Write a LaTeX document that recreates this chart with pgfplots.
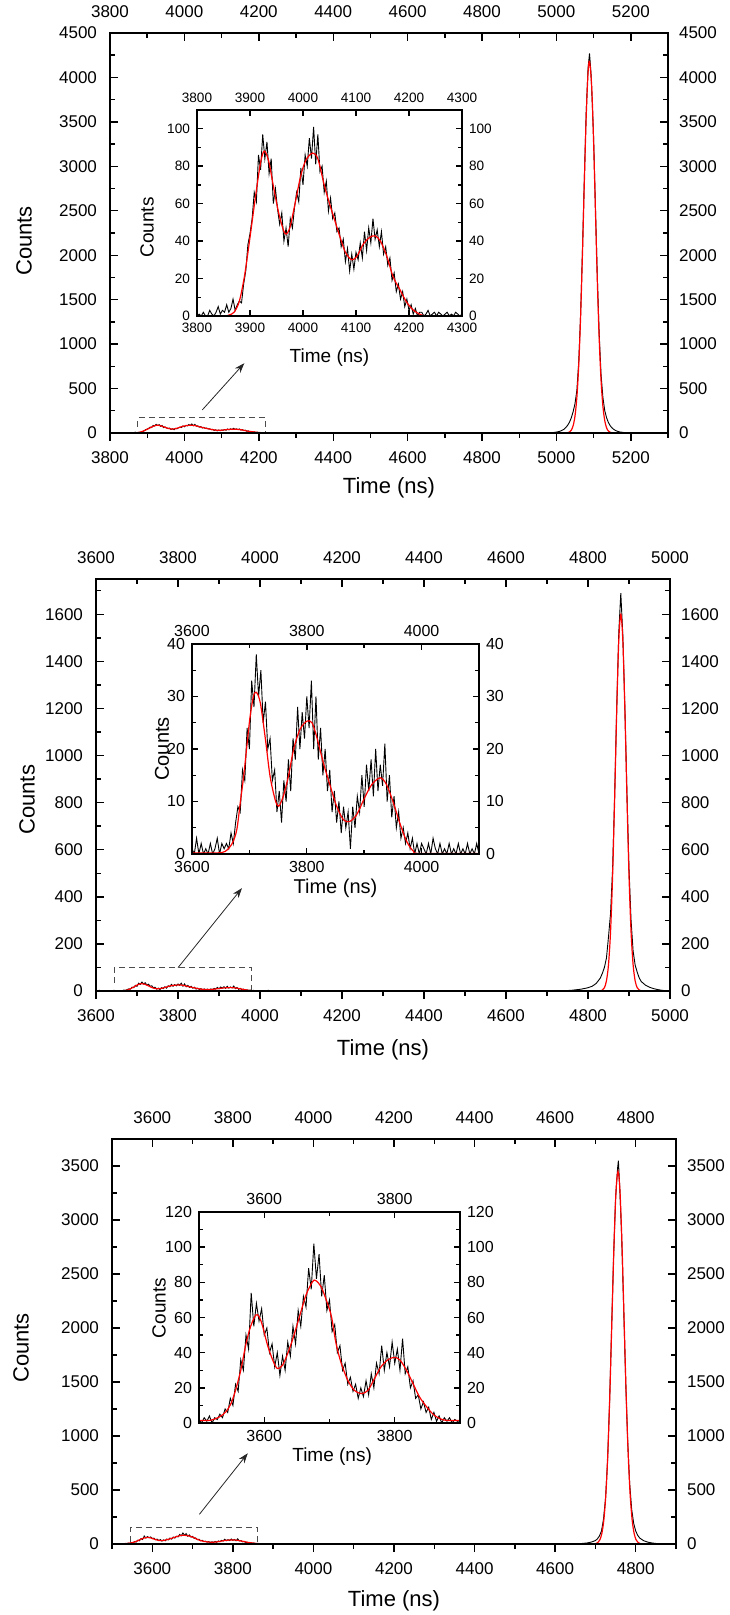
\documentclass[border=0pt]{standalone}
\usepackage{fontspec}
\setmainfont{Liberation Sans}
\usepackage{pgfplots}
\usepackage{pgfplotstable}
\pgfplotsset{compat=1.18}
\usetikzlibrary{arrows.meta}

% ---- panel 1 ----
\pgfplotstableread[row sep=\\]{x y\\
3800 0\\3804 1\\3808 0\\3812 2\\3816 0\\3820 0\\3824 3\\3828 1\\3832 0\\3836 2\\3840 5\\3844 1\\3848 3\\3852 2\\3856 6\\3860 2\\3864 4\\3868 9\\3872 3\\3876 6\\
3880 8\\3884 7\\3888 17\\3892 24\\3896 38\\3900 44\\3904 52\\3908 66\\3912 61\\3916 86\\3920 78\\3924 97\\3928 84\\3932 93\\3936 76\\3940 84\\3944 60\\3948 68\\3952 57\\3956 49\\
3960 55\\3964 40\\3968 47\\3972 37\\3976 52\\3980 47\\3984 58\\3988 66\\3992 61\\3996 79\\4000 70\\4004 86\\4008 80\\4012 95\\4016 84\\4020 101\\4024 81\\4028 97\\4032 77\\4036 80\\
4040 66\\4044 72\\4048 56\\4052 63\\4056 52\\4060 55\\4064 45\\4068 47\\4072 37\\4076 41\\4080 29\\4084 36\\4088 24\\4092 33\\4096 25\\4100 34\\4104 30\\4108 39\\4112 31\\4116 45\\
4120 35\\4124 47\\4128 39\\4132 52\\4136 41\\4140 46\\4144 37\\4148 45\\4152 33\\4156 37\\4160 27\\4164 31\\4168 19\\4172 23\\4176 13\\4180 17\\4184 9\\4188 13\\4192 5\\4196 9\\
4200 3\\4204 6\\4208 1\\4212 4\\4216 0\\4220 2\\4224 2\\4228 0\\4232 1\\4236 3\\4240 0\\4244 1\\4248 2\\4252 0\\4256 2\\4260 1\\4264 0\\4268 1\\4272 2\\4276 0\\
4280 1\\4284 0\\4288 2\\4292 1\\4296 0\\4300 1\\
}\blkA
\pgfplotstableread[row sep=\\]{x y\\
3800 0\\3850 0\\3860 0.5\\3870 2\\3880 8\\3890 22\\3900 42\\3910 63\\3920 82\\3927 88\\3935 83\\3945 68\\3955 54\\3966 44\\3975 47\\3985 60\\3995 74\\4005 83\\4018 87\\4028 84\\
4040 70\\4050 60\\4060 51\\4070 42\\4080 34\\4092 30\\4102 32\\4114 38.5\\4126 42\\4136 42.8\\4146 40\\4158 32\\4170 21\\4183 14\\4195 7.6\\4208 3.2\\4220 1\\4235 0\\4300 0\\
}\redA
\pgfplotstableread[row sep=\\]{x y\\
4980 0\\4990 4\\5000 10\\5010 20\\5020 40\\5025 60\\5030 85\\5035 120\\5040 170\\5045 240\\5050 330\\5055 480\\5060 800\\5065 1330\\5070 2050\\5075 2850\\5080 3600\\5085 4100\\5089 4270\\5093 4050\\
5097 3650\\5100 3320\\5105 2530\\5110 1760\\5115 1120\\5120 660\\5125 400\\5130 250\\5135 170\\5140 115\\5145 80\\5150 55\\5155 38\\5160 26\\5165 18\\5170 12\\5180 6\\5190 2\\5200 0\\
}\pkblkA
\pgfplotstableread[row sep=\\]{x y\\
5020 0\\5025 1\\5030 4\\5035 11\\5040 32\\5045 82\\5050 191\\5055 401\\5060 759\\5065 1300\\5070 2010\\5075 2809\\5080 3547\\5085 4047\\5089 4180\\5095 3886\\5100 3270\\5105 2487\\5110 1709\\5115 1061\\
5120 595\\5125 302\\5130 138\\5135 57\\5140 21\\5145 7\\5150 2\\5160 0\\
}\pkredA

% ---- panel 2 ----
\pgfplotstableread[row sep=\\]{x y\\
3600 1\\3604 0\\3608 3\\3612 0\\3616 2\\3620 0\\3624 1\\3628 0\\3632 2\\3636 0\\3640 1\\3644 3\\3648 0\\3652 2\\3656 1\\3660 2\\3664 1\\3668 4\\3672 2\\3676 6\\
3680 9\\3684 8\\3688 16\\3692 14\\3696 24\\3700 20\\3704 33\\3708 28\\3712 38\\3716 30\\3720 35\\3724 25\\3728 29\\3732 20\\3736 22\\3740 14\\3744 16\\3748 8\\3752 12\\3756 6\\
3760 14\\3764 10\\3768 18\\3772 12\\3776 22\\3780 18\\3784 28\\3788 20\\3792 27\\3796 22\\3800 30\\3804 24\\3808 33\\3812 20\\3816 30\\3820 18\\3824 24\\3828 15\\3832 20\\3836 12\\
3840 16\\3844 8\\3848 12\\3852 6\\3856 10\\3860 4\\3864 9\\3868 5\\3872 8\\3876 1\\3880 9\\3884 5\\3888 11\\3892 8\\3896 15\\3900 9\\3904 17\\3908 12\\3912 18\\3916 11\\
3920 20\\3924 12\\3928 17\\3932 13\\3936 21\\3940 10\\3944 15\\3948 7\\3952 11\\3956 5\\3960 8\\3964 3\\3968 5\\3972 2\\3976 4\\3980 1\\3984 3\\3988 0\\3992 2\\3996 0\\
4000 2\\4004 1\\4008 0\\4012 2\\4016 0\\4020 3\\4024 1\\4028 0\\4032 2\\4036 0\\4040 1\\4044 0\\4048 2\\4052 0\\4056 1\\4060 0\\4064 2\\4068 0\\4072 1\\4076 0\\
4080 2\\4084 0\\4088 1\\4092 0\\4096 2\\4100 0\\
}\blkB
\pgfplotstableread[row sep=\\]{x y\\
3600 0.2\\3643 0.2\\3658 0.5\\3670 2\\3678 4.6\\3684 9.7\\3690 14.8\\3696 21\\3701 26\\3707 30\\3712 30.8\\3719 28.8\\3728 21.8\\3736 14.8\\3745 10.3\\3751 9.1\\3759 11\\3768 14.8\\3777 19.9\\3788 23.7\\
3800 25.3\\3809 25\\3817 22.4\\3829 17.3\\3841 12.9\\3852 9.1\\3864 6.5\\3875 6.2\\3887 7.5\\3899 10.3\\3913 13.2\\3928 14.5\\3939 13.2\\3951 9.7\\3962 5.9\\3974 2.4\\3986 0.5\\3997 0.1\\4100 0.1\\
}\redB
\pgfplotstableread[row sep=\\]{x y\\
4740 0\\4750 2\\4760 3\\4770 5\\4780 7\\4790 10\\4800 14\\4810 20\\4820 32\\4830 55\\4835 75\\4840 100\\4845 140\\4850 230\\4855 330\\4860 520\\4865 830\\4870 1200\\4875 1520\\4880 1690\\
4885 1510\\4890 1200\\4895 840\\4900 520\\4905 300\\4910 170\\4915 110\\4920 80\\4925 55\\4930 40\\4940 25\\4950 16\\4960 10\\4970 6\\4980 3\\4990 1\\5000 0\\
}\pkblkB
\pgfplotstableread[row sep=\\]{x y\\
4830 1\\4835 4\\4840 14\\4845 43\\4850 112\\4855 252\\4860 490\\4865 822\\4870 1190\\4875 1486\\4880 1600\\4885 1486\\4890 1190\\4895 822\\4900 490\\4905 252\\4910 112\\4915 43\\4920 14\\4925 4\\
4930 1\\4940 0\\
}\pkredB

% ---- panel 3 ----
\pgfplotstableread[row sep=\\]{x y\\
3500 2\\3504 0\\3508 3\\3512 1\\3516 4\\3520 0\\3524 3\\3528 2\\3532 5\\3536 3\\3540 8\\3544 6\\3548 14\\3552 10\\3556 22\\3560 18\\3564 36\\3568 30\\3572 50\\3576 42\\
3580 74\\3584 55\\3588 68\\3592 58\\3596 65\\3600 50\\3604 54\\3608 40\\3612 45\\3616 32\\3620 40\\3624 27\\3628 38\\3632 30\\3636 46\\3640 38\\3644 55\\3648 45\\3652 64\\3656 55\\
3660 72\\3664 66\\3668 88\\3672 76\\3676 102\\3680 82\\3684 96\\3688 72\\3692 84\\3696 64\\3700 70\\3704 52\\3708 56\\3712 40\\3716 44\\3720 30\\3724 34\\3728 22\\3732 26\\3736 18\\
3740 22\\3744 14\\3748 20\\3752 15\\3756 24\\3760 16\\3764 28\\3768 20\\3772 34\\3776 28\\3780 44\\3784 30\\3788 40\\3792 32\\3796 46\\3800 34\\3804 42\\3808 30\\3812 48\\3816 28\\
3820 32\\3824 20\\3828 24\\3832 14\\3836 16\\3840 8\\3844 12\\3848 6\\3852 9\\3856 2\\3860 6\\3864 1\\3868 4\\3872 0\\3876 3\\3880 1\\3884 3\\3888 0\\3892 2\\3896 1\\3900 0\\
}\blkC
\pgfplotstableread[row sep=\\]{x y\\
3500 1.5\\3517 1.5\\3531 3.4\\3541 6.3\\3549 11\\3556 18.6\\3564 30\\3572 45\\3579 54.8\\3587 61.4\\3592 60.5\\3597 55.7\\3605 44.3\\3613 35.8\\3620 31\\3628 32.9\\3636 39.6\\3644 48.1\\3654 60.5\\3664 72.8\\
3674 80.4\\3679 81\\3687 77.6\\3695 70\\3703 60.5\\3710 45.3\\3718 33.9\\3728 24.3\\3738 18.6\\3749 16.7\\3759 18.6\\3769 25.3\\3779 32\\3790 36.1\\3800 37.3\\3808 35.8\\3818 30\\3828 22.4\\3838 14.8\\3849 9.1\\
3859 4.9\\3869 2.5\\3879 1.5\\3900 1.5\\
}\redC
\pgfplotstableread[row sep=\\]{x y\\
4650 0\\4660 3\\4670 6\\4680 10\\4690 18\\4700 32\\4705 48\\4710 75\\4715 120\\4720 230\\4725 420\\4730 760\\4735 1300\\4740 1980\\4745 2650\\4750 3200\\4755 3480\\4757 3550\\4760 3330\\4765 2860\\
4770 2200\\4775 1520\\4780 960\\4785 560\\4790 320\\4795 190\\4800 120\\4805 80\\4810 55\\4820 30\\4830 17\\4840 10\\4850 5\\4860 2\\4870 0\\
}\pkblkC
\pgfplotstableread[row sep=\\]{x y\\
4690 0\\4696 1\\4701 4\\4706 13\\4711 38\\4716 99\\4721 227\\4726 467\\4731 860\\4736 1418\\4741 2093\\4746 2762\\4751 3263\\4756 3450\\4761 3263\\4766 2762\\4771 2093\\4776 1418\\4781 860\\4786 467\\
4791 227\\4796 99\\4801 38\\4806 13\\4811 4\\4816 1\\4830 0\\
}\pkredC

\pgfplotsset{
  /pgf/number format/set thousands separator={},
  base/.style={scale only axis, anchor=south west,
    axis line style={line width=0.8pt},
    every tick/.append style={black, line width=0.7pt},
    /pgf/number format/assume math mode=true},
  mainax/.style={base,
    tick label style={font=\fontsize{8.5}{10}\selectfont},
    label style={font=\fontsize{11}{13}\selectfont},
    major tick length=4pt, minor tick length=2.5pt},
  insax/.style={base, tick align=inside,
    major tick length=3pt, minor tick length=1.8pt},
  bottomax/.style={tick align=outside, ytick=\empty, xtick pos=bottom,
    xticklabel pos=bottom, xticklabel style={yshift=-2pt}},
  topleftax/.style={tick align=inside, xtick pos=top, xticklabel pos=top,
    ytick pos=left, yticklabel pos=left,
    xticklabel style={yshift=4pt}, yticklabel style={xshift=-3pt}},
  rightax/.style={tick align=inside, xtick=\empty, ytick pos=right,
    yticklabel pos=right, yticklabel style={xshift=2pt}},
  blk/.style={black, line width=0.45pt},
  rd/.style={red, line width=0.6pt, smooth},
}
\tikzset{
  box/.style={densely dashed, black!70, line width=0.5pt},
  arr/.style={-{Stealth[length=5pt,width=3.5pt]}, line width=0.4pt, black!85},
}

\begin{document}
\begin{tikzpicture}
\path[use as bounding box] (0pt,0pt) rectangle (364.5pt,807.5pt);

% ================= panel 1 =================
\begin{axis}[mainax, bottomax, at={(55pt,591pt)}, width=279pt, height=200pt,
  xmin=3800, xmax=5300, ymin=0, ymax=4500,
  xtick={3800,4000,...,5200}, minor xtick={3900,4100,...,5300},
  xlabel={Time (ns)},
  xlabel style={at={(axis description cs:0.5,0)}, anchor=center, yshift=-27.5pt}]
  \addplot[blk] coordinates {(3800,0) (5300,0)};
  \addplot[blk] table {\blkA};
  \addplot[blk] table {\pkblkA};
  \addplot[red, line width=0.6pt] coordinates {(3800,0) (5300,0)};
  \addplot[rd] table {\redA};
  \addplot[rd] table {\pkredA};
  \draw[box] (axis cs:3875,70) -- (axis cs:3875,172) -- (axis cs:4217,172) -- (axis cs:4217,15);
  \draw[arr] (axis cs:4048,259) -- (axis cs:4161,785);
\end{axis}
\begin{axis}[mainax, topleftax, at={(55pt,591pt)}, width=279pt, height=200pt,
  xmin=3800, xmax=5300, ymin=0, ymax=4500,
  xtick={3800,4000,...,5200}, minor xtick={3900,4100,...,5300},
  ytick={0,500,...,4500}, minor ytick={250,750,...,4250},
  ylabel={Counts},
  ylabel style={at={(axis description cs:0,0.48)}, anchor=center, yshift=43pt}]
\end{axis}
\begin{axis}[mainax, rightax, at={(55pt,591pt)}, width=279pt, height=200pt,
  xmin=3800, xmax=5300, ymin=0, ymax=4500,
  ytick={0,500,...,4500}, minor ytick={250,750,...,4250}]
\end{axis}
% inset 1
\begin{axis}[insax, at={(98.5pt,649.5pt)}, width=132.5pt, height=103pt,
  xmin=3800, xmax=4300, ymin=0, ymax=110,
  xtick={3800,3900,...,4300}, ytick={0,20,...,100}, minor ytick={10,30,...,110},
  xtick pos=bottom, ytick pos=left,
  tick label style={font=\fontsize{6.8}{8}\selectfont},
  label style={font=\fontsize{9.5}{11}\selectfont},
  xlabel={Time (ns)}, ylabel={Counts},
  xlabel style={at={(axis description cs:0.5,0)}, anchor=center, yshift=-21pt},
  ylabel style={at={(axis description cs:0,0.43)}, anchor=center, yshift=25pt}]
  \addplot[blk] table {\blkA};
  \addplot[rd] table {\redA};
\end{axis}
\begin{axis}[insax, at={(98.5pt,649.5pt)}, width=132.5pt, height=103pt,
  xmin=3800, xmax=4300, ymin=0, ymax=110,
  xtick={3800,3900,...,4300}, ytick={0,20,...,100}, minor ytick={10,30,...,110},
  xtick pos=top, xticklabel pos=top, ytick pos=right, yticklabel pos=right,
  tick label style={font=\fontsize{6.8}{8}\selectfont}]
\end{axis}

% ================= panel 2 =================
\begin{axis}[mainax, bottomax, at={(48pt,312pt)}, width=287pt, height=206pt,
  xmin=3600, xmax=5000, ymin=0, ymax=1750,
  xtick={3600,3800,...,5000}, minor xtick={3700,3900,...,4900},
  xlabel={Time (ns)},
  xlabel style={at={(axis description cs:0.5,0)}, anchor=center, yshift=-29.5pt}]
  \addplot[blk] coordinates {(3600,0) (5000,0)};
  \addplot[blk] table {\blkB};
  \addplot[blk] table {\pkblkB};
  \addplot[red, line width=0.6pt] coordinates {(3600,0) (5000,0)};
  \addplot[rd] table {\redB};
  \addplot[rd] table {\pkredB};
  \draw[box] (axis cs:3645,34) -- (axis cs:3645,99) -- (axis cs:3980,99) -- (axis cs:3980,5);
  \draw[arr] (axis cs:3800,99) -- (axis cs:3956,437);
\end{axis}
\begin{axis}[mainax, topleftax, at={(48pt,312pt)}, width=287pt, height=206pt,
  xmin=3600, xmax=5000, ymin=0, ymax=1750,
  xtick={3600,3800,...,5000}, minor xtick={3700,3900,...,4900},
  ytick={0,200,...,1600}, minor ytick={100,300,...,1700},
  ylabel={Counts},
  ylabel style={at={(axis description cs:0,0.464)}, anchor=center, yshift=34.5pt}]
\end{axis}
\begin{axis}[mainax, rightax, at={(48pt,312pt)}, width=287pt, height=206pt,
  xmin=3600, xmax=5000, ymin=0, ymax=1750,
  ytick={0,200,...,1600}, minor ytick={100,300,...,1700}]
\end{axis}
% inset 2
\begin{axis}[insax, at={(96pt,380.5pt)}, width=143.5pt, height=105pt,
  xmin=3600, xmax=4100, ymin=0, ymax=40,
  xtick={3600,3800,4000}, minor xtick={3700,3900}, ytick={0,10,...,40}, minor ytick={5,15,...,35},
  xtick pos=bottom, ytick pos=left,
  tick label style={font=\fontsize{8}{9}\selectfont},
  label style={font=\fontsize{10}{12}\selectfont},
  xlabel={Time (ns)}, ylabel={Counts},
  xlabel style={at={(axis description cs:0.5,0)}, anchor=center, yshift=-17pt},
  ylabel style={at={(axis description cs:0,0.5)}, anchor=center, yshift=15pt}]
  \addplot[blk] table {\blkB};
  \addplot[rd] table {\redB};
\end{axis}
\begin{axis}[insax, at={(96pt,380.5pt)}, width=143.5pt, height=105pt,
  xmin=3600, xmax=4100, ymin=0, ymax=40,
  xtick={3600,3800,4000}, minor xtick={3700,3900}, ytick={0,10,...,40}, minor ytick={5,15,...,35},
  xtick pos=top, xticklabel pos=top, ytick pos=right, yticklabel pos=right,
  tick label style={font=\fontsize{8}{9}\selectfont}]
\end{axis}

% ================= panel 3 =================
\begin{axis}[mainax, bottomax, at={(56pt,35.5pt)}, width=282pt, height=202.5pt,
  xmin=3500, xmax=4900, ymin=0, ymax=3750,
  xtick={3600,3800,...,4800}, minor xtick={3500,3700,...,4900},
  xlabel={Time (ns)},
  xlabel style={at={(axis description cs:0.5,0)}, anchor=center, yshift=-28.5pt}]
  \addplot[blk] coordinates {(3500,0) (4900,0)};
  \addplot[blk] table {\blkC};
  \addplot[blk] table {\pkblkC};
  \addplot[red, line width=0.6pt] coordinates {(3500,0) (4900,0)};
  \addplot[rd] table {\redC};
  \addplot[rd] table {\pkredC};
  \draw[box] (axis cs:3547,21) -- (axis cs:3547,155) -- (axis cs:3861,155) -- (axis cs:3861,5);
  \draw[arr] (axis cs:3717,275) -- (axis cs:3837,840);
\end{axis}
\begin{axis}[mainax, topleftax, at={(56pt,35.5pt)}, width=282pt, height=202.5pt,
  xmin=3500, xmax=4900, ymin=0, ymax=3750,
  xtick={3600,3800,...,4800}, minor xtick={3500,3700,...,4900},
  ytick={0,500,...,3500}, minor ytick={250,750,...,3750},
  ylabel={Counts},
  ylabel style={at={(axis description cs:0,0.484)}, anchor=center, yshift=45.5pt}]
\end{axis}
\begin{axis}[mainax, rightax, at={(56pt,35.5pt)}, width=282pt, height=202.5pt,
  xmin=3500, xmax=4900, ymin=0, ymax=3750,
  ytick={0,500,...,3500}, minor ytick={250,750,...,3750}]
\end{axis}
% inset 3
\begin{axis}[insax, at={(99.5pt,96pt)}, width=130.5pt, height=105.5pt,
  xmin=3500, xmax=3900, ymin=0, ymax=120,
  xtick={3600,3800}, minor xtick={3500,3700,3900}, ytick={0,20,...,120}, minor ytick={10,30,...,110},
  xtick pos=bottom, ytick pos=left,
  tick label style={font=\fontsize{8}{9}\selectfont},
  label style={font=\fontsize{9.5}{11}\selectfont},
  xlabel={Time (ns)}, ylabel={Counts},
  xlabel style={at={(axis description cs:0.51,0)}, anchor=center, yshift=-17pt},
  ylabel style={at={(axis description cs:0,0.545)}, anchor=center, yshift=20pt}]
  \addplot[blk] table {\blkC};
  \addplot[rd] table {\redC};
\end{axis}
\begin{axis}[insax, at={(99.5pt,96pt)}, width=130.5pt, height=105.5pt,
  xmin=3500, xmax=3900, ymin=0, ymax=120,
  xtick={3600,3800}, minor xtick={3500,3700,3900}, ytick={0,20,...,120}, minor ytick={10,30,...,110},
  xtick pos=top, xticklabel pos=top, ytick pos=right, yticklabel pos=right,
  tick label style={font=\fontsize{8}{9}\selectfont}]
\end{axis}
\end{tikzpicture}
\end{document}
